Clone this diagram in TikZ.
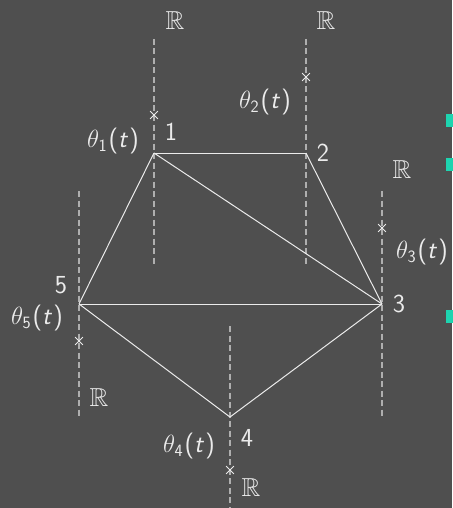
\documentclass[tikz,border=0pt]{standalone}
\usepackage{amssymb}
\usetikzlibrary{shapes.misc}

\definecolor{bggray}{RGB}{79,79,79}
\definecolor{axisgray}{RGB}{175,175,175}
\definecolor{fgwhite}{RGB}{235,235,235}
\definecolor{bulletteal}{RGB}{30,212,176}

\newcommand{\thetat}[1]{$\theta_{\mathsf{#1}}$\kern1.5pt(\textit{t}\kern1pt)}

\begin{document}
\begin{tikzpicture}[
        x=1pt, y=-1pt,
        edgeline/.style={draw=fgwhite, line width=1pt},
        axisline/.style={draw=axisgray, line width=1.1pt, dash pattern=on 6pt off 3.5pt},
        crossmark/.style={cross out, draw=fgwhite, line width=0.8pt, minimum size=7pt, inner sep=0pt},
        lbl/.style={text=fgwhite, inner sep=0pt, font=\sffamily\fontsize{26}{30}\selectfont},
        bullet/.style={fill=bulletteal, minimum size=13pt, inner sep=0pt}
    ]

    \fill[bggray] (0,0) rectangle (452,508);
    \useasboundingbox (0,0) rectangle (452,508);

    % the five real lines
    \coordinate (A1top) at (154,39);
    \coordinate (A1bot) at (154,266);
    \coordinate (A2top) at (306,39);
    \coordinate (A2bot) at (306,266);
    \coordinate (A3top) at (382,191);
    \coordinate (A3bot) at (382,417);
    \coordinate (A4top) at (230,326);
    \coordinate (A4bot) at (230,510);
    \coordinate (A5top) at (79,191);
    \coordinate (A5bot) at (79,417);

    \path[axisline] (A1top) edge (A1bot);
    \path[axisline] (A2top) edge (A2bot);
    \path[axisline] (A3top) edge (A3bot);
    \path[axisline] (A4top) edge (A4bot);
    \path[axisline] (A5top) edge (A5bot);

    \node [lbl] (R1) at (175,21) {$\mathbb{R}$};
    \node [lbl] (R2) at (326,21) {$\mathbb{R}$};
    \node [lbl] (R3) at (402,170) {$\mathbb{R}$};
    \node [lbl] (R4) at (251,488) {$\mathbb{R}$};
    \node [lbl] (R5) at (99,398) {$\mathbb{R}$};

    % vertices of the graph
    \coordinate (V1) at (154,153);
    \coordinate (V2) at (306,153);
    \coordinate (V3) at (382,304);
    \coordinate (V4) at (230,417);
    \coordinate (V5) at (79,304);

    \path[edgeline] (V1) edge (V2);
    \path[edgeline] (V1) edge (V5);
    \path[edgeline] (V1) edge (V3);
    \path[edgeline] (V2) edge (V3);
    \path[edgeline] (V5) edge (V3);
    \path[edgeline] (V5) edge (V4);
    \path[edgeline] (V4) edge (V3);

    \node [lbl] (N1) at (171,132) {1};
    \node [lbl] (N2) at (323,153) {2};
    \node [lbl] (N3) at (399,304) {3};
    \node [lbl] (N4) at (247,438) {4};
    \node [lbl] (N5) at (61,285) {5};

    % positions theta_i(t)
    \node [crossmark] (X1) at (154,115) {};
    \node [crossmark] (X2) at (306,77) {};
    \node [crossmark] (X3) at (382,228) {};
    \node [crossmark] (X4) at (230,470) {};
    \node [crossmark] (X5) at (79,341) {};

    \node [lbl] (T1) at (113,141) {\thetat{1}};
    \node [lbl] (T2) at (265,102) {\thetat{2}};
    \node [lbl] (T3) at (422,252) {\thetat{3}};
    \node [lbl] (T4) at (189,446) {\thetat{4}};
    \node [lbl] (T5) at (37,318) {\thetat{5}};

    \node [bullet] (B1) at (452.5,120.5) {};
    \node [bullet] (B2) at (452.5,164) {};
    \node [bullet] (B3) at (452.5,316.5) {};

\end{tikzpicture}
\end{document}
